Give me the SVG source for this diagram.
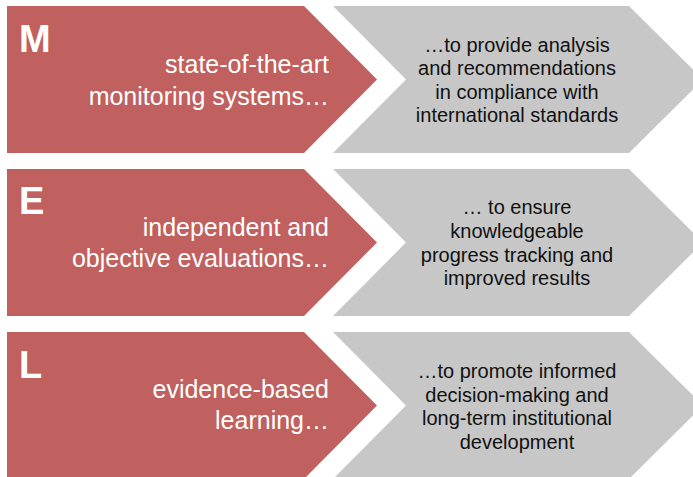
<svg xmlns="http://www.w3.org/2000/svg" width="693" height="477" viewBox="0 0 693 477">
<style>
.bg{fill:#ffffff}
.red{fill:#C0615F}
.gray{fill:#C7C7C7}
.letter{font-family:"Liberation Sans",Arial,sans-serif;font-weight:bold;font-size:38px;fill:#ffffff}
.rt{font-family:"Liberation Sans",Arial,sans-serif;font-size:25px;fill:#ffffff;text-anchor:end}
.gt{font-family:"Liberation Sans",Arial,sans-serif;font-size:20px;fill:#111111;text-anchor:middle}
</style>
<rect class="bg" x="0" y="0" width="693" height="477"/>
<g id="row-m">
  <g id="m-left">
    <polygon class="red" points="7,6 304,6 377,79.5 304,153 7,153"/>
    <text class="letter" x="19" y="51.5">M</text>
    <text class="rt" x="329" y="73.3">state-of-the-art</text>
    <text class="rt" x="329" y="104.5">monitoring systems…</text>
  </g>
  <g id="m-right">
    <polygon class="gray" points="333,6 629,6 703,79.5 629,153 333,153 406,79.5"/>
    <text class="gt" x="517" y="51.5">…to provide analysis</text>
    <text class="gt" x="517" y="75">and recommendations</text>
    <text class="gt" x="517" y="98.5">in compliance with</text>
    <text class="gt" x="517" y="122">international standards</text>
  </g>
</g>
<g id="row-e">
  <g id="e-left">
    <polygon class="red" points="7,169 304,169 377,242.5 304,316 7,316"/>
    <text class="letter" x="19" y="214">E</text>
    <text class="rt" x="329" y="236">independent and</text>
    <text class="rt" x="329" y="267.3">objective evaluations…</text>
  </g>
  <g id="e-right">
    <polygon class="gray" points="333,169 629,169 703,242.5 629,316 333,316 406,242.5"/>
    <text class="gt" x="517" y="214">… to ensure</text>
    <text class="gt" x="517" y="237.5">knowledgeable</text>
    <text class="gt" x="517" y="261.5">progress tracking and</text>
    <text class="gt" x="517" y="285">improved results</text>
  </g>
</g>
<g id="row-l">
  <g id="l-left">
    <polygon class="red" points="7,332 304,332 377,405.5 304,479 7,479"/>
    <text class="letter" x="19" y="378">L</text>
    <text class="rt" x="329" y="398.3">evidence-based</text>
    <text class="rt" x="329" y="429.3">learning…</text>
  </g>
  <g id="l-right">
    <polygon class="gray" points="333,332 629,332 703,405.5 629,479 333,479 406,405.5"/>
    <text class="gt" x="517" y="378">…to promote informed</text>
    <text class="gt" x="517" y="401.5">decision-making and</text>
    <text class="gt" x="517" y="425">long-term institutional</text>
    <text class="gt" x="517" y="448.5">development</text>
  </g>
</g>
</svg>
